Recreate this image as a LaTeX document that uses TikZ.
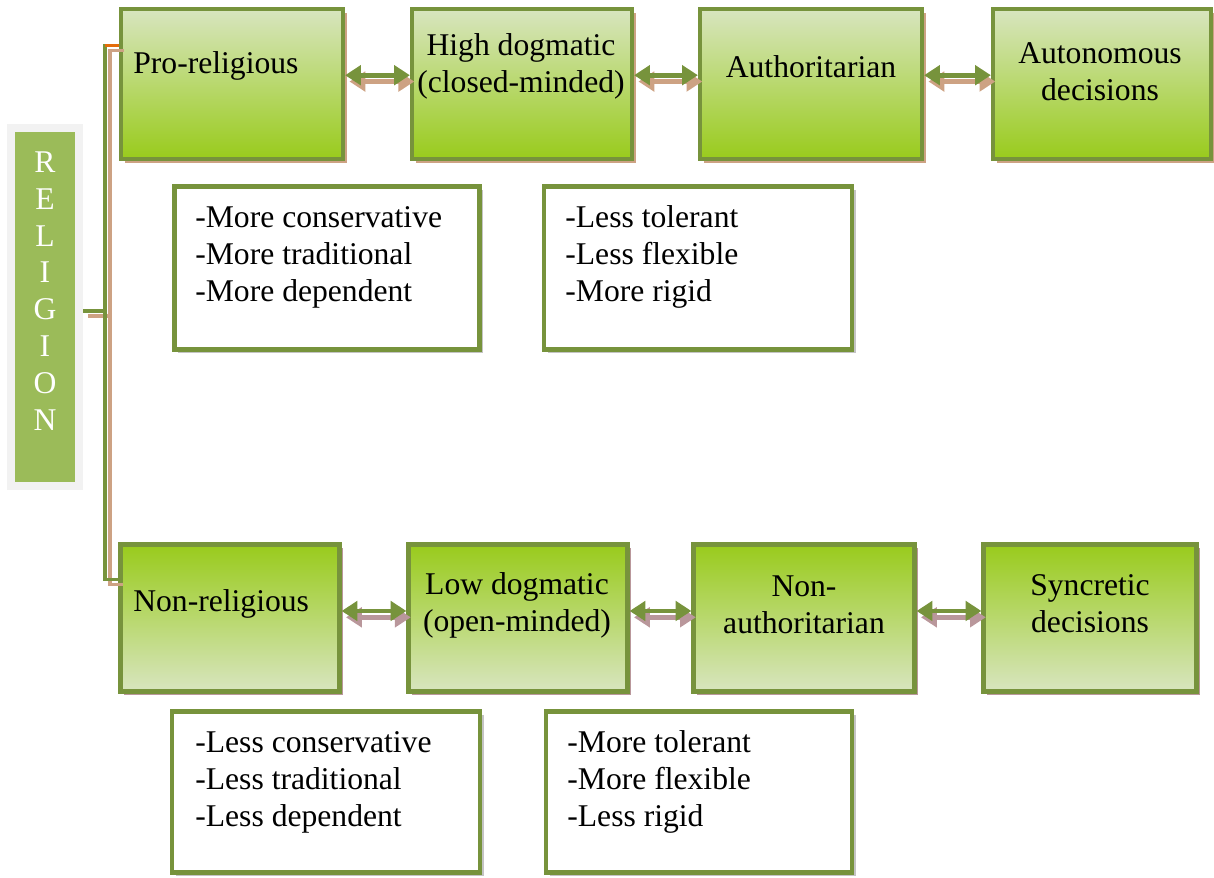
\documentclass[tikz,border=0pt]{standalone}
\usepackage{fontspec}
\setmainfont{Liberation Serif}
\usepackage{tikz}
\usetikzlibrary{positioning}
\usetikzlibrary{shadows,arrows.meta}
\usepackage{xcolor}

\definecolor{boxedge}{HTML}{77933C}
\definecolor{lightgreen}{HTML}{D8E5BF}
\definecolor{deepgreen}{HTML}{99CB1C}
\definecolor{tanshade}{HTML}{CDA283}
\definecolor{mauveshade}{HTML}{B9979B}
\definecolor{relgreen}{HTML}{9BBB59}
\definecolor{relframe}{HTML}{F2F2F2}
\definecolor{relshade}{HTML}{A8B596}
\definecolor{greyshade}{HTML}{C4C4C4}
\definecolor{orangeline}{HTML}{E46C0A}

\begin{document}
\begin{tikzpicture}[x=0.02cm, y=-0.02cm,
    font=\fontsize{18}{21}\selectfont,
    >={Triangle[length=9pt,width=11pt]},
    greenbox/.style={draw=boxedge, line width=2.4pt, inner sep=0pt},
    topbox/.style={greenbox, minimum height=3cm, top color=lightgreen, bottom color=deepgreen,
        drop shadow={shadow xshift=2.2pt, shadow yshift=-2.2pt, fill=tanshade, opacity=1}},
    botbox/.style={greenbox, minimum height=2.94cm, top color=deepgreen, bottom color=lightgreen,
        drop shadow={shadow xshift=2.2pt, shadow yshift=-2.2pt, fill=mauveshade, opacity=1}},
    listbox/.style={draw=boxedge, line width=2.4pt, fill=white, inner sep=0pt,
        drop shadow={shadow xshift=2.2pt, shadow yshift=-2.2pt, fill=greyshade, opacity=1}},
    relbox/.style={draw=relframe, fill=relgreen, line width=4.5pt, inner sep=0pt,
        minimum width=1.36cm, minimum height=7.16cm,
        drop shadow={shadow xshift=2.5pt, shadow yshift=-2.5pt, fill=relshade, opacity=1}},
    boxtext/.style={inner sep=0pt, align=center},
    listtext/.style={inner sep=0pt, align=left, anchor=west},
    link/.style={draw=boxedge, line width=2pt},
    linkshade/.style={draw=tanshade, line width=2pt, transform canvas={xshift=2.8pt, yshift=-2.8pt}},
    biarrow/.style={<->, draw=boxedge, line width=2.6pt},
    biarrowshade/.style={<->, draw=#1, line width=2.6pt, transform canvas={xshift=2.5pt, yshift=-3.6pt}}
]
    \useasboundingbox (0,0) rectangle (1214,877);

    % Religion column
    \node[relbox] (rel) at (45,307) {};
    \node[boxtext, text=white] (reltext) at (45,291) {R\\E\\L\\I\\G\\I\\O\\N};

    % Top row
    \node[topbox, minimum width=4.44cm] (pro) at (232,84) {};
    \node[topbox, minimum width=4.4cm] (high) at (522,84) {};
    \node[topbox, minimum width=4.44cm] (auth) at (811,84) {};
    \node[topbox, minimum width=4.36cm] (auto) at (1102,84) {};
    \node[listtext] (protext) at (133,66) {Pro-religious};
    \node[boxtext] (hightext) at (521,66) {High dogmatic\\(closed-minded)};
    \node[boxtext] (authtext) at (811,67) {Authoritarian};
    \node[boxtext] (autotext) at (1100,72) {Autonomous\\decisions};

    % Bottom row
    \node[botbox, minimum width=4.38cm] (non) at (230,618) {};
    \node[botbox, minimum width=4.38cm] (low) at (518,618) {};
    \node[botbox, minimum width=4.42cm] (nonauth) at (804,618) {};
    \node[botbox, minimum width=4.26cm] (sync) at (1090,618) {};
    \node[listtext] (nontext) at (133,604) {Non-religious};
    \node[boxtext] (lowtext) at (517,605) {Low dogmatic\\(open-minded)};
    \node[boxtext] (nonauthtext) at (804,605) {Non-\\authoritarian};
    \node[boxtext] (synctext) at (1090,604) {Syncretic\\decisions};

    % Trait boxes
    \node[listbox, minimum width=6.1cm, minimum height=3.26cm] (morecons) at (327,268) {};
    \node[listbox, minimum width=6.16cm, minimum height=3.26cm] (lesstol) at (698,268) {};
    \node[listbox, minimum width=6.16cm, minimum height=3.22cm] (lesscons) at (326,792) {};
    \node[listbox, minimum width=6.12cm, minimum height=3.22cm] (moretol) at (699,792) {};
    \node[listtext] (moreconstext) at (195,257) {-More conservative\\-More traditional\\-More dependent};
    \node[listtext] (lesstoltext) at (565,257) {-Less tolerant\\-Less flexible\\-More rigid};
    \node[listtext] (lessconstext) at (195,782) {-Less conservative\\-Less traditional\\-Less dependent};
    \node[listtext] (moretoltext) at (567,782) {-More tolerant\\-More flexible\\-Less rigid};

    % Branch lines
    \coordinate (fork) at (105,311);
    \coordinate (topjoin) at ([yshift=22pt]pro.west);
    \coordinate (botjoin) at ([yshift=22pt]non.west);
    \draw[linkshade] (topjoin) -| (fork) |- (botjoin);
    \draw[linkshade] (rel.east |- fork) -- (fork);
    \draw[link] (topjoin) -| (fork) |- (botjoin);
    \draw[link] (rel.east |- fork) -- (fork);
    \draw[link, draw=orangeline] (topjoin -| fork) -- (topjoin);

    % Arrows between the steps
    \foreach \a/\b in {pro/high, high/auth, auth/auto} {
        \draw[biarrowshade=tanshade] ([yshift=5pt]\a.east) -- ([yshift=5pt]\b.west);
        \draw[biarrow] ([yshift=5pt]\a.east) -- ([yshift=5pt]\b.west);
    }
    \foreach \a/\b in {non/low, low/nonauth, nonauth/sync} {
        \draw[biarrowshade=mauveshade] ([yshift=4pt]\a.east) -- ([yshift=4pt]\b.west);
        \draw[biarrow] ([yshift=4pt]\a.east) -- ([yshift=4pt]\b.west);
    }
\end{tikzpicture}
\end{document}
